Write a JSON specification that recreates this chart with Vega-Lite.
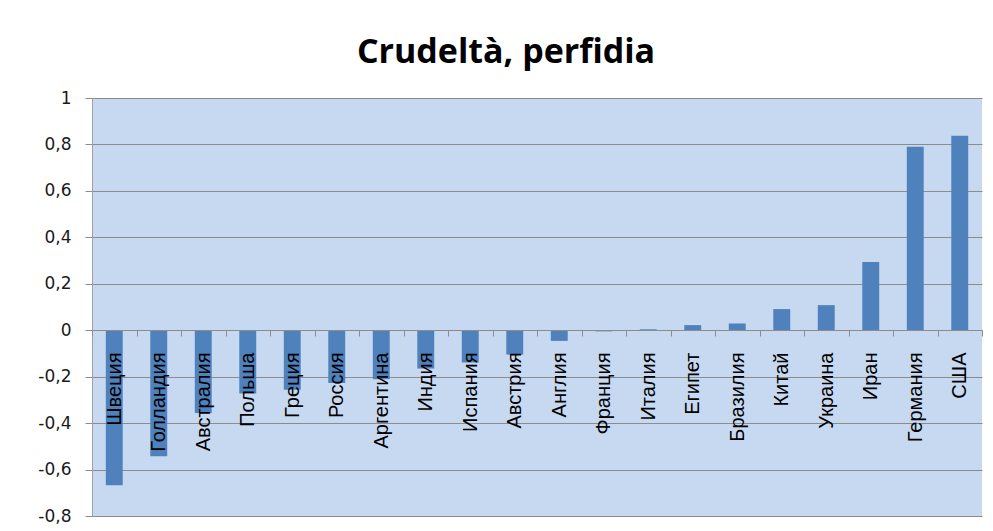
{
  "$schema": "https://vega.github.io/schema/vega-lite/v6.json",
  "autosize": {"type": "none"},
  "padding": {"left": 92, "top": 98, "right": 11, "bottom": 15},
  "width": 890,
  "height": 418,
  "background": "white",
  "title": {
    "text": "Crudeltà, perfidia",
    "font": "Open Sans",
    "fontSize": 34,
    "fontWeight": "bold",
    "color": "#000000",
    "anchor": "middle",
    "baseline": "alphabetic",
    "offset": -8,
    "dx": -31
  },
  "config": {
    "view": {"fill": "#c6d9f1", "stroke": null}
  },
  "data": {
    "values": [
      {"country": "Швеция", "value": -0.668},
      {"country": "Голландия", "value": -0.543},
      {"country": "Австралия", "value": -0.356},
      {"country": "Польша", "value": -0.273},
      {"country": "Греция", "value": -0.256},
      {"country": "Россия", "value": -0.227},
      {"country": "Аргентина", "value": -0.211},
      {"country": "Индия", "value": -0.165},
      {"country": "Испания", "value": -0.139},
      {"country": "Австрия", "value": -0.105},
      {"country": "Англия", "value": -0.046},
      {"country": "Франция", "value": -0.005},
      {"country": "Италия", "value": 0.004},
      {"country": "Египет", "value": 0.022},
      {"country": "Бразилия", "value": 0.029},
      {"country": "Китай", "value": 0.091},
      {"country": "Украина", "value": 0.108},
      {"country": "Иран", "value": 0.294},
      {"country": "Германия", "value": 0.79},
      {"country": "США", "value": 0.837}
    ]
  },
  "mark": {"type": "bar", "color": "#4f81bd", "width": {"band": 0.38}},
  "encoding": {
    "x": {
      "field": "country",
      "type": "nominal",
      "sort": null,
      "scale": {"paddingInner": 0, "paddingOuter": 0},
      "axis": {
        "title": null,
        "offset": -186,
        "zindex": 1,
        "domainColor": "#8c8c8c",
        "tickColor": "#8c8c8c",
        "tickSize": 6,
        "tickBand": "extent",
        "labelAngle": -90,
        "labelAlign": "right",
        "labelBaseline": "middle",
        "labelPadding": 16,
        "labelFont": "Liberation Sans",
        "labelFontSize": 20,
        "labelColor": "#000000"
      }
    },
    "y": {
      "field": "value",
      "type": "quantitative",
      "scale": {"domain": [-0.8, 1], "nice": false, "zero": false},
      "axis": {
        "title": null,
        "values": [-0.8, -0.6, -0.4, -0.2, 0, 0.2, 0.4, 0.6, 0.8, 1],
        "labelExpr": "replace(toString(round(datum.value*10)/10), '.', ',')",
        "labelFont": "DejaVu Sans",
        "labelFontSize": 17,
        "labelColor": "#1a1a1a",
        "labelPadding": 14,
        "tickSize": 7,
        "tickColor": "#8c8c8c",
        "domainColor": "#a0a0a0",
        "gridColor": "#8c8c8c",
        "gridOpacity": 1,
        "grid": true
      }
    }
  }
}
